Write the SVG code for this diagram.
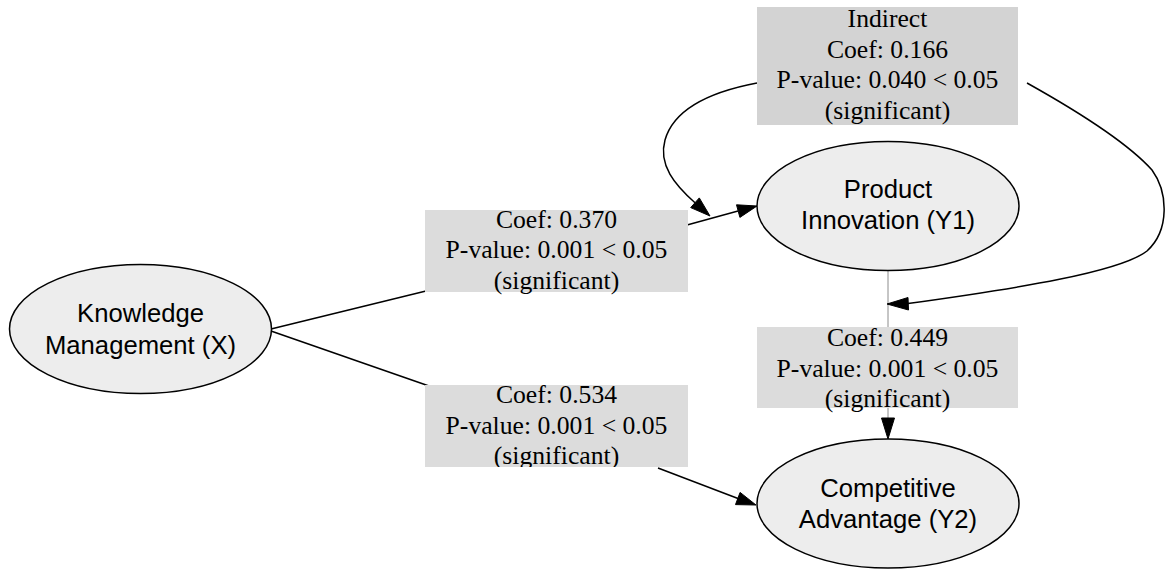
<svg xmlns="http://www.w3.org/2000/svg" width="1166" height="569" viewBox="0 0 1166 569">
<style>
.bg{fill:#ffffff}
.ell{fill:#ededed;stroke:#000;stroke-width:1.5}
.box{fill:#dcdcdc;stroke:none}
.boxd{fill:#d3d3d3;stroke:none}
.edge{fill:none;stroke:#000;stroke-width:1.5}
.thin{fill:none;stroke:#8c8c8c;stroke-width:1}
.head{fill:#000;stroke:#000;stroke-width:1}
.st{font-family:"Liberation Sans",Arial,sans-serif;font-size:25.67px;fill:#000;text-anchor:middle}
.lt{font-family:"Liberation Serif","Times New Roman",serif;font-size:25.67px;fill:#000;text-anchor:middle}
</style>
<defs>
<clipPath id="clip534"><rect x="425" y="385" width="263" height="82"/></clipPath>
</defs>
<rect class="bg" x="0" y="0" width="1166" height="569"/>
<g id="connectors">
<path class="edge" d="M271,329 L426,291"/>
<path class="edge" d="M687,225 L738,211"/>
<polygon class="head" points="757,206 736.5,204.8 739.9,217.4"/>
<path class="edge" d="M271,331 L429,386"/>
<path class="edge" d="M658,468 L738,498.5"/>
<polygon class="head" points="756,505 735.5,504.6 740.1,492.4"/>
<path class="thin" d="M888,271 L888,327"/>
<path class="thin" d="M888,408 L888,418"/>
<polygon class="head" points="888,439 881.5,418 894.5,418"/>
<path class="edge" d="M757,83 C720,90 675,105 665,140 C658,165 675,185 695,202.7"/>
<polygon class="head" points="710,216 690.7,207.6 699.3,197.9"/>
<path class="edge" d="M1027,83 C1070,107 1125,140 1152,170 C1168,192 1170,230 1147,251 C1120,272 1020,288 908,303.5"/>
<polygon class="head" points="887,304 908,297.5 908.5,310"/>
</g>
<g id="node-indirect">
<rect class="boxd" x="757" y="7" width="261" height="118"/>
<text class="lt" x="887.5" y="27">Indirect</text>
<text class="lt" x="887.5" y="57.8">Coef: 0.166</text>
<text class="lt" x="887.5" y="88">P-value: 0.040 &lt; 0.05</text>
<text class="lt" x="887.5" y="118.5">(significant)</text>
</g>
<g id="node-coef370">
<rect class="box" x="425" y="210" width="263" height="82"/>
<text class="lt" x="556.5" y="227.5">Coef: 0.370</text>
<text class="lt" x="556.5" y="258.3">P-value: 0.001 &lt; 0.05</text>
<text class="lt" x="556.5" y="288.5">(significant)</text>
</g>
<g id="node-coef534">
<rect class="box" x="425" y="385" width="263" height="82"/>
<text class="lt" x="556.5" y="403.3">Coef: 0.534</text>
<text class="lt" x="556.5" y="433.5">P-value: 0.001 &lt; 0.05</text>
<text class="lt" x="556.5" y="464" clip-path="url(#clip534)">(significant)</text>
</g>
<g id="node-coef449">
<rect class="box" x="757" y="327" width="261" height="81"/>
<text class="lt" x="887.5" y="346">Coef: 0.449</text>
<text class="lt" x="887.5" y="376.7">P-value: 0.001 &lt; 0.05</text>
<text class="lt" x="887.5" y="406.7">(significant)</text>
</g>
<g id="node-km">
<ellipse class="ell" cx="140.5" cy="329" rx="131" ry="64.5"/>
<text class="st" x="140.5" y="321.7">Knowledge</text>
<text class="st" x="140.5" y="354">Management (X)</text>
</g>
<g id="node-pi">
<ellipse class="ell" cx="888" cy="206" rx="131" ry="64.5"/>
<text class="st" x="888" y="198.3">Product</text>
<text class="st" x="888" y="229.3">Innovation (Y1)</text>
</g>
<g id="node-ca">
<ellipse class="ell" cx="888" cy="503.5" rx="131" ry="64.5"/>
<text class="st" x="888" y="497">Competitive</text>
<text class="st" x="888" y="528.3">Advantage (Y2)</text>
</g>
</svg>
